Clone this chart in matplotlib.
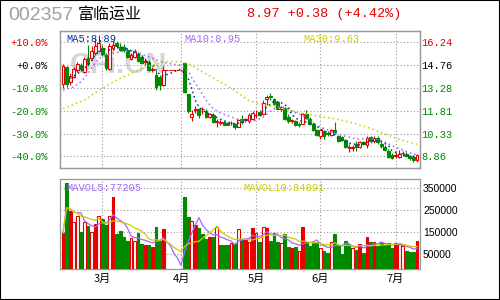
import matplotlib
matplotlib.use('Agg')
import matplotlib.pyplot as plt
from matplotlib.patches import Rectangle
import numpy as np
import pandas as pd

# 002357 daily k-line
opens = [13.57, 14.66, 13.64, 14.00, 14.44, 14.76, 14.33, 15.20, 15.20, 15.52,
         15.68, 15.89, 15.41, 14.50, 15.85, 16.17, 15.96, 15.91, 15.74, 15.13,
         15.26, 15.46, 15.31, 14.94, 14.98, 14.46, 14.11, 14.00, 13.46, 14.44,
         14.44, 14.44, 14.44, 14.44, 14.87, 12.88, 11.40, 11.88, 11.94, 11.90,
         11.77, 11.40, 11.55, 11.07, 11.03, 11.07, 11.03, 10.99, 10.92, 10.77,
         11.25, 11.18, 11.12, 11.25, 11.51, 11.73, 11.62, 12.59, 12.75, 12.55,
         12.38, 11.90, 11.99, 11.40, 11.16, 11.14, 10.97, 10.95, 11.62, 11.29,
         10.97, 10.53, 10.14, 10.47, 10.36, 10.21, 10.53, 10.14, 10.10, 9.92,
         9.38, 9.40, 9.66, 9.49, 9.77, 9.62, 10.10, 9.82, 10.05, 9.66,
         9.45, 9.23, 8.97, 8.88, 8.84, 9.04, 9.01, 8.90, 8.80, 8.60]
highs = [14.81, 14.72, 14.27, 14.66, 14.94, 14.87, 15.31, 16.07, 16.02, 16.50,
         16.72, 16.07, 15.52, 16.17, 16.39, 16.33, 16.17, 16.11, 15.85, 15.52,
         15.81, 15.63, 15.41, 15.20, 15.09, 14.66, 14.44, 14.11, 14.72, 14.44,
         14.44, 14.44, 14.44, 14.44, 14.92, 12.92, 11.83, 12.09, 11.99, 12.05,
         11.94, 11.68, 11.64, 11.29, 11.18, 11.14, 11.07, 11.12, 11.03, 11.29,
         11.55, 11.34, 11.68, 11.77, 11.83, 11.83, 12.48, 12.81, 12.96, 12.64,
         12.42, 12.12, 12.05, 11.57, 11.29, 11.18, 11.07, 11.68, 11.88, 11.38,
         11.07, 10.60, 10.64, 10.53, 10.47, 10.60, 11.07, 10.21, 10.16, 9.99,
         9.66, 9.56, 9.88, 9.88, 9.88, 10.14, 10.16, 10.14, 10.14, 9.77,
         9.56, 9.34, 9.06, 9.12, 9.27, 9.19, 9.12, 8.97, 8.86, 9.00]
lows = [13.29, 13.35, 13.50, 13.90, 14.33, 14.37, 14.27, 14.72, 15.09, 15.41,
        15.59, 15.37, 14.44, 14.44, 15.74, 15.89, 15.68, 15.63, 15.20, 15.07,
        15.20, 14.94, 14.81, 14.76, 14.37, 14.33, 13.14, 13.14, 13.42, 14.44,
        14.44, 14.44, 14.44, 14.44, 12.98, 11.68, 11.14, 11.68, 11.34, 11.62,
        11.34, 11.34, 11.03, 10.75, 10.90, 10.86, 10.86, 10.90, 10.60, 10.73,
        10.97, 11.07, 11.03, 11.18, 11.34, 11.47, 11.55, 12.16, 12.48, 12.20,
        11.90, 11.77, 11.18, 11.03, 11.03, 10.81, 10.75, 10.94, 11.29, 10.86,
        10.47, 10.15, 9.99, 9.99, 10.16, 10.14, 10.31, 9.81, 9.88, 9.38,
        9.12, 9.23, 9.23, 9.38, 9.56, 9.40, 9.73, 9.73, 9.66, 9.38,
        9.17, 8.73, 8.69, 8.73, 8.77, 8.90, 8.84, 8.64, 8.47, 8.47]
closes = [14.72, 13.57, 14.07, 14.48, 14.81, 14.48, 15.13, 14.81, 15.68, 16.02,
          16.17, 15.46, 14.55, 16.02, 16.07, 15.98, 15.74, 15.74, 15.26, 15.41,
          15.70, 15.02, 14.87, 15.02, 14.44, 14.53, 13.35, 13.46, 14.44, 14.44,
          14.44, 14.44, 14.44, 14.44, 13.03, 11.77, 11.57, 11.92, 11.55, 11.94,
          11.40, 11.60, 11.07, 11.16, 11.07, 10.90, 10.90, 11.03, 10.73, 11.23,
          11.07, 11.25, 11.55, 11.68, 11.55, 11.55, 12.33, 12.72, 12.68, 12.27,
          11.94, 12.03, 11.25, 11.12, 11.20, 10.86, 10.90, 11.62, 11.36, 10.92,
          10.53, 10.21, 10.53, 10.14, 10.27, 10.53, 10.42, 9.88, 9.92, 9.49,
          9.43, 9.43, 9.45, 9.77, 9.66, 10.05, 9.82, 10.05, 9.77, 9.51,
          9.27, 8.84, 8.75, 8.93, 9.01, 9.08, 8.90, 8.73, 8.59, 8.97]
volumes = [148000, 375000, 247000, 197000, 224000, 151000, 197000, 179000, 151000, 189000,
           224000, 212000, 182000, 224000, 312000, 144000, 156000, 129000, 111000, 124000,
           111000, 146000, 95500, 92000, 92000, 85000, 174000, 110500, 166000, 0,
           0, 0, 0, 0, 312000, 219500, 201000, 182000, 171000, 143600,
           118000, 128600, 128600, 175500, 92300, 92300, 92300, 100000, 98000, 163600,
           121000, 118000, 106000, 169500, 145500, 106000, 174000, 169500, 110500, 148000,
           106000, 100000, 141000, 84500, 80000, 84500, 65000, 174000, 106000, 87700,
           102700, 106000, 80000, 65000, 54500, 106000, 141000, 91000, 51400, 110500,
           95500, 80000, 69500, 95500, 54500, 128600, 106000, 106000, 87700, 102700,
           91000, 100000, 80000, 100000, 95500, 87700, 65000, 60500, 60500, 110500]
# volume bar style: h = red hollow, r = red filled, g = green, n = suspended
vol_kind = ''.join(['rgrhhghghr', 'hgghrggggh', 'hggrgrggrn', 'nnnngghrgg',
                    'grghggghgh', 'grhrhghrgg', 'ghggrghrgg', 'gghgghgggg',
                    'ghgrgrgrgg', 'gggrhhgggr'])

ma5_day = [2, 4, 6, 8, 9, 11, 14, 16, 18, 20, 22, 23, 25, 27, 28, 30, 32, 33, 35, 36,
           37, 38, 40, 42, 44, 46, 48, 50, 51, 53, 55, 57, 59, 61, 63, 64, 66, 68, 70, 72,
           74, 76, 77, 79, 81, 83, 85, 87, 89, 91, 92, 94, 96, 98, 99]
ma5_val = [13.90, 14.20, 14.55, 15.05, 15.45, 15.80, 15.74, 15.96, 15.81, 15.59, 15.31, 15.09,
           14.76, 14.15, 14.07, 14.22, 14.44, 14.48, 13.90, 13.25, 12.49, 12.05, 11.68, 11.51,
           11.25, 11.08, 10.97, 11.03, 11.18, 11.40, 11.62, 12.05, 12.42, 12.33, 12.05, 11.55,
           11.18, 11.08, 10.97, 10.64, 10.38, 10.25, 9.99, 9.77, 9.66, 9.60, 9.77, 9.88, 9.82,
           9.56, 9.23, 9.01, 8.90, 8.86, 8.89]
ma10_day = [0, 3, 5, 7, 8, 10, 13, 16, 19, 21, 23, 25, 28, 31, 33, 35, 36, 38, 40, 42,
            44, 46, 48, 50, 52, 54, 56, 58, 60, 62, 63, 65, 67, 69, 71, 75, 78, 82, 86, 89,
            93, 97, 99]
ma10_val = [13.14, 13.35, 13.68, 14.20, 14.60, 15.20, 15.46, 15.63, 15.68, 15.59, 15.37, 15.20,
            14.94, 14.81, 14.76, 14.40, 13.95, 13.25, 12.49, 11.94, 11.66, 11.50, 11.32, 11.17,
            11.08, 11.18, 11.40, 11.78, 12.05, 12.03, 11.90, 11.68, 11.51, 11.18, 10.86, 10.47,
            10.21, 9.99, 9.99, 9.88, 9.45, 9.08, 8.95]
ma30_day = [0, 6, 10, 15, 20, 24, 29, 33, 35, 38, 43, 48, 52, 57, 62, 66, 71, 76, 80, 85,
            90, 94, 99]
ma30_val = [11.94, 12.49, 13.14, 13.79, 14.33, 14.70, 15.00, 14.98, 14.87, 14.45, 13.80, 13.14,
            12.45, 12.16, 11.90, 11.68, 11.46, 11.29, 11.08, 10.75, 10.31, 9.95, 9.63]

months = ['3月', '4月', '5月', '6月', '7月']
month_day = [11, 33, 54, 72, 93]
price_ticks = [16.24, 14.76, 13.28, 11.81, 10.33, 8.86]
pct_labels = ['+10.0%', '+0.0%', '-10.0%', '-20.0%', '-30.0%', '-40.0%']
vol_ticks = [350000, 250000, 150000, 50000]

RED = '#e60000'
GREEN = '#008a00'
GRID = '#999999'
MONO = 'Liberation Mono'
CJK = ['Noto Sans CJK SC', 'DejaVu Sans']

fig = plt.figure(figsize=(5, 3), dpi=100)
fig.patch.set_facecolor('white')
ax = fig.add_axes([60/500, 1-168/300, 360/500, 137/300])
axv = fig.add_axes([60/500, 1-269/300, 360/500, 90.3/300])

x = np.arange(len(closes))
o = np.array(opens); c = np.array(closes)
h = np.array(highs); l = np.array(lows)
up = c >= o
col = np.where(up, RED, GREEN)
face = np.where(up, 'white', GREEN)

# watermark
ax.text(0.028, 0.755, 'CFi.CN', transform=ax.transAxes, fontsize=21, fontweight='bold',
        family='Liberation Sans', color='#d6d6d6', va='center', ha='left', zorder=0.5)

ax.vlines(x, l, h, colors=col, lw=0.8, zorder=2)
ax.bar(x, np.maximum(np.abs(c - o), 0.012), bottom=np.minimum(o, c), width=0.78,
       color=face, edgecolor=col, lw=0.8, zorder=3)

ax.plot(ma30_day, ma30_val, color='#cccc00', lw=1.1, ls=(0, (1, 2)), zorder=4)
ax.plot(ma10_day, ma10_val, color='#a366ff', lw=1.1, ls=(0, (1, 2)), zorder=4)
ax.plot(ma5_day, ma5_val, color='#003399', lw=1.1, ls=(0, (1, 2)), zorder=4)

ax.set_xlim(-0.84, 99.84)
ax.set_ylim(8.10, 16.97)
ax.set_xticks(month_day)
ax.set_xticklabels([])
ax.set_yticks(price_ticks)
ax.set_yticklabels(pct_labels, family=MONO, fontsize=7.5)
pct_colors = [RED, 'black', GREEN, GREEN, GREEN, GREEN]
for t, cc in zip(ax.get_yticklabels(), pct_colors):
    t.set_color(cc)
ax.tick_params(length=0)
ax.tick_params(axis='y', pad=8.6)
ax.grid(True, color=GRID, lw=0.8, ls=(0, (1, 2)))
ax.set_axisbelow(True)

axr = ax.twinx()
axr.set_ylim(ax.get_ylim())
axr.set_yticks(price_ticks)
axr.set_yticklabels(['%.2f' % p for p in price_ticks], family=MONO, fontsize=7.5)
for t, cc in zip(axr.get_yticklabels(), pct_colors):
    t.set_color(cc)
axr.tick_params(length=0, pad=1.2)

for a in (ax, axr, axv):
    for s in a.spines.values():
        s.set_color(GRID)
        s.set_linewidth(0.9)

ax.text(6/360, 0.94, 'MA5:8.89', transform=ax.transAxes, family=MONO, fontsize=7.5,
        color='#003399', va='center', zorder=6)
ax.text(124/360, 0.94, 'MA10:8.95', transform=ax.transAxes, family=MONO, fontsize=7.5,
        color='#a366ff', va='center', zorder=6)
ax.text(243/360, 0.94, 'MA30:9.63', transform=ax.transAxes, family=MONO, fontsize=7.5,
        color='#cccc00', va='center', zorder=6)

# volume panel
VBASE = -16800
v = np.array(volumes)
kinds = np.array(list(vol_kind))
for k, fc, ec in (('g', GREEN, GREEN), ('r', RED, RED), ('h', 'white', RED)):
    m = (kinds == k) & (v > 0)
    axv.bar(x[m], v[m] - VBASE, bottom=VBASE, width=0.78, color=fc, edgecolor=ec,
            lw=0.8, zorder=3)
mavol5 = pd.Series(volumes).rolling(5, min_periods=1).mean()
mavol10 = pd.Series(volumes).rolling(10, min_periods=1).mean()
axv.plot(x, mavol5, color='#a366ff', lw=0.9, zorder=4)
axv.plot(x, mavol10, color='#cccc00', lw=0.9, zorder=4)

axv.set_xlim(-0.84, 99.84)
axv.set_ylim(VBASE, 393600)
axv.yaxis.tick_right()
axv.set_yticks(vol_ticks)
axv.set_yticklabels([str(t) for t in vol_ticks], family='Liberation Sans', fontsize=7.5)
axv.set_xticks(month_day)
axv.set_xticklabels(months, family=CJK, fontsize=8)
axv.tick_params(length=0)
axv.tick_params(axis='y', pad=2.2)
axv.tick_params(axis='x', pad=3.5)
axv.grid(True, color=GRID, lw=0.8, ls=(0, (1, 2)))
axv.set_axisbelow(True)

axv.text(6/360, 0.9, 'MAVOL5:77205', transform=axv.transAxes, family=MONO, fontsize=7.5,
         color='#a366ff', va='center', zorder=6)
axv.text(183/360, 0.9, 'MAVOL10:84891', transform=axv.transAxes, family=MONO, fontsize=7.5,
         color='#cccc00', va='center', zorder=6)

# header line
fig.text(8/500, 1-15/300, '002357', family='Liberation Sans', fontsize=14,
         color='#a0a0a0', va='center')
fig.text(78/500, 1-14/300, '富临运业', family=CJK, fontsize=11.5, color='black', va='center')
fig.text(247/500, 1-14/300, '8.97 +0.38 (+4.42%)', family=MONO, fontsize=9.7,
         color=RED, va='center')

fig.patches.append(Rectangle((0, 0), 1, 1, transform=fig.transFigure, fill=False,
                             ec='black', lw=1.5))

fig.savefig('out.png', dpi=100)
